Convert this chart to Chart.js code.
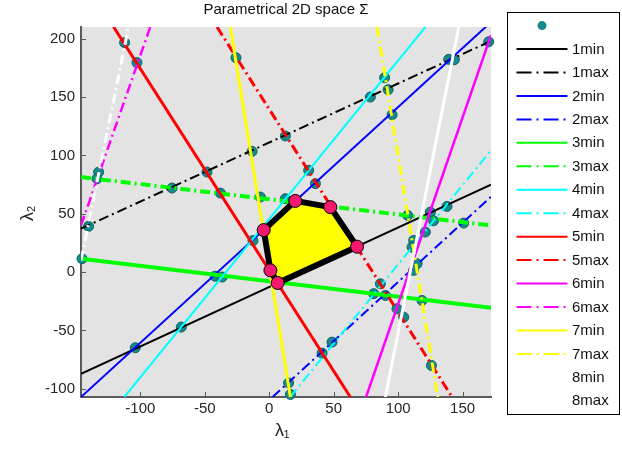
<!DOCTYPE html>
<html>
<head>
<meta charset="utf-8">
<script src="https://cdn.jsdelivr.net/npm/chart.js@4/dist/chart.umd.min.js"></script>
<style>
  html, body { margin: 0; padding: 0; background: #ffffff; }
  #wrap { width: 622px; height: 450px; }
</style>
</head>
<body>
<div id="wrap"><canvas id="c" width="622" height="450"></canvas></div>
<script>
// ---- axis ranges and ticks ----
const xRange = [-146, 172];
const yRange = [-107, 210];
const xTicks = [-100, -50, 0, 50, 100, 150];
const yTicks = [-100, -50, 0, 50, 100, 150, 200];

// ---- constraint lines, each given by two points (lambda1, lambda2) ----
const line1min = [[-146, -87.1], [172, 74.9]];
const line1max = [[-146, 37.2], [172, 198.0]];
const line2min = [[-146, -107], [172, 214.2]];
const line2max = [[2.6, -107], [172, 64.5]];
const line3min = [[-146, 11.5], [172, -30.5]];
const line3max = [[-146, 81.4], [172, 40.0]];
const line4min = [[-112.4, -107], [121.1, 210]];
const line4max = [[16.3, -107], [172, 104.4]];
const line5min = [[-120.7, 210], [62.9, -107]];
const line5max = [[-40.5, 210], [141.8, -107]];
const line6min = [[75.1, -107], [172, 203.0]];
const line6max = [[-146, 40.0], [-92.3, 210]];
const line7min = [[-30.2, 210], [16.4, -107]];
const line7max = [[83.6, 210], [130.7, -107]];
const line8min = [[90.1, -107], [147.0, 210]];
const line8max = [[-146, 10.0], [-109.1, 210]];

const lineNames = ['1min', '1max', '2min', '2max', '3min', '3max', '4min', '4max',
                   '5min', '5max', '6min', '6max', '7min', '7max', '8min', '8max'];
const lineEnds = [line1min, line1max, line2min, line2max, line3min, line3max, line4min, line4max,
                  line5min, line5max, line6min, line6max, line7min, line7max, line8min, line8max];

// ---- pairwise intersections of the constraint lines ----
const intersections = [
  [-112.2, 196.6], [-102.6, 179.5], [-25.8, 183.7], [-13.3, 103.4], [12.5, 116.6],
  [78.4, 150.0], [89.5, 166.6], [92.2, 156.3], [95.3, 134.9], [139.2, 182.3],
  [143.6, 182.0], [170.2, 197.3],
  [-132.3, 85.7], [-133.6, 80.0], [-75.4, 72.0], [-48.3, 85.7], [-37.9, 67.7],
  [-140.1, 39.2], [-145.2, 11.5], [-42.0, -3.5], [-36.5, -4.2], [-12.6, 27.0],
  [30.6, 87.2], [35.8, 75.8], [-6.9, 64.3], [12.5, 62.9],
  [107.4, 48.6], [125.0, 51.4], [137.9, 56.3], [150.8, 42.0], [127.5, 44.0],
  [121.1, 34.3], [112.0, 27.1], [110.8, 21.4], [114.7, 7.2], [112.0, 1.5],
  [86.2, -10.0], [81.0, -18.5], [90.1, -20.0], [99.1, -31.4], [104.3, -38.6], [118.5, -24.3],
  [48.7, -60.0], [41.0, -69.4], [125.8, -80.0], [15.0, -95.0], [16.4, -104.8],
  [-103.9, -64.8], [-68.2, -47.1]
];

// ---- vertices of the feasible region Sigma ----
const region = [
  [-4.3, 36.0], [20.2, 61.0], [47.4, 55.7], [68.1, 21.8], [6.5, -9.3], [0.9, 1.5]
];

// ---- styling ----
const seriesColors = { '1': '#000000', '2': '#0000ff', '3': '#00ff00', '4': '#00ffff',
                       '5': '#ff0000', '6': '#ff00ff', '7': '#ffff00', '8': '#ffffff' };
const seriesWidths = { '1': 2, '2': 2, '3': 4, '4': 2, '5': 3, '6': 2.5, '7': 3, '8': 3 };
const DASH_DOT = [10, 4, 2, 4];
const LEGEND_DASH = [15, 5, 2, 5];
const TEAL = '#16898b';
const TEAL_EDGE = '#0c6466';
const PINK = '#f5186f';
const FONT = "'Liberation Sans', Arial, sans-serif";

const toPts = arr => arr.map(([x, y]) => ({ x, y }));

const datasets = [];
datasets.push({
  label: '',
  data: toPts(intersections),
  showLine: false,
  pointRadius: 5,
  pointHoverRadius: 5,
  pointBackgroundColor: TEAL,
  pointBorderColor: TEAL_EDGE,
  pointBorderWidth: 1,
  order: 200,
  clip: false,
  inLegend: true
});
lineNames.forEach((name, i) => {
  const k = name[0];
  datasets.push({
    label: name,
    data: toPts(lineEnds[i]),
    showLine: true,
    borderColor: seriesColors[k],
    borderWidth: seriesWidths[k],
    borderDash: name.endsWith('max') ? DASH_DOT : [],
    pointRadius: 0,
    pointHoverRadius: 0,
    tension: 0,
    fill: false,
    order: 100 - i,
    clip: 0,
    inLegend: true
  });
});
datasets.push({
  label: 'Sigma',
  data: toPts(region.concat([region[0]])),
  showLine: true,
  fill: 'shape',
  backgroundColor: '#ffff00',
  borderColor: '#000000',
  borderWidth: 6,
  borderJoinStyle: 'round',
  pointRadius: 0,
  pointHoverRadius: 0,
  tension: 0,
  order: 10,
  clip: false
});
datasets.push({
  label: 'Sigma vertices',
  data: toPts(region),
  showLine: false,
  pointRadius: 6.5,
  pointHoverRadius: 6.5,
  pointBackgroundColor: PINK,
  pointBorderColor: '#000000',
  pointBorderWidth: 1,
  order: 5,
  clip: false
});

// plot background, inward tick marks, axis titles and the boxed legend
const decorations = {
  id: 'decorations',
  beforeDraw(chart) {
    const { ctx, chartArea: a } = chart;
    ctx.save();
    ctx.fillStyle = '#e3e3e3';
    ctx.fillRect(a.left, a.top, a.right - a.left, a.bottom - a.top);
    ctx.restore();
  },
  beforeDatasetsDraw(chart) {
    const { ctx, chartArea: a, scales: { x, y } } = chart;
    ctx.save();
    ctx.strokeStyle = '#5a5a5a';
    ctx.lineWidth = 1;
    ctx.beginPath();
    x.ticks.forEach(t => {
      const px = Math.round(x.getPixelForValue(t.value)) + 0.5;
      ctx.moveTo(px, a.bottom);
      ctx.lineTo(px, a.bottom - 5);
    });
    y.ticks.forEach(t => {
      const py = Math.round(y.getPixelForValue(t.value)) + 0.5;
      ctx.moveTo(a.left, py);
      ctx.lineTo(a.left + 5, py);
    });
    ctx.stroke();
    ctx.restore();
  },
  afterDraw(chart) {
    const { ctx } = chart;
    ctx.save();
    ctx.fillStyle = '#222222';
    ctx.textAlign = 'left';
    ctx.textBaseline = 'alphabetic';

    // x axis title: lambda with subscript 1
    ctx.font = '18px ' + FONT;
    ctx.fillText('λ', 275, 436);
    ctx.font = '11px ' + FONT;
    ctx.fillText('1', 283.5, 438);

    // y axis title: lambda with subscript 2, rotated
    ctx.save();
    ctx.translate(33, 221);
    ctx.rotate(-Math.PI / 2);
    ctx.font = '18px ' + FONT;
    ctx.fillText('λ', 0, 0);
    ctx.font = '11px ' + FONT;
    ctx.fillText('2', 9, 2);
    ctx.restore();

    // legend box
    const L = { left: 507, top: 12, right: 619, bottom: 414, y0: 25.6, dy: 23.45, x0: 516.5, x1: 567.5, tx: 572 };
    ctx.fillStyle = '#ffffff';
    ctx.fillRect(L.left, L.top, L.right - L.left, L.bottom - L.top);
    ctx.strokeStyle = '#000000';
    ctx.lineWidth = 1;
    ctx.setLineDash([]);
    ctx.strokeRect(L.left + 0.5, L.top + 0.5, L.right - L.left, L.bottom - L.top);

    const items = chart.data.datasets.filter(d => d.inLegend);
    ctx.font = '15px ' + FONT;
    ctx.textBaseline = 'middle';
    items.forEach((d, i) => {
      const y = L.y0 + i * L.dy;
      if (d.showLine) {
        ctx.beginPath();
        ctx.setLineDash(d.borderDash && d.borderDash.length ? LEGEND_DASH : []);
        ctx.strokeStyle = d.borderColor;
        ctx.lineWidth = 2;
        ctx.moveTo(L.x0, y);
        ctx.lineTo(L.x1, y);
        ctx.stroke();
        ctx.setLineDash([]);
      } else {
        ctx.beginPath();
        ctx.arc((L.x0 + L.x1) / 2, y, 4.5, 0, Math.PI * 2);
        ctx.fillStyle = d.pointBackgroundColor;
        ctx.fill();
      }
      if (d.label) {
        ctx.fillStyle = '#111111';
        ctx.fillText(d.label, L.tx, y + 0.5);
      }
    });
    ctx.restore();
  }
};

Chart.defaults.font.family = FONT;

new Chart(document.getElementById('c'), {
  type: 'scatter',
  data: { datasets },
  options: {
    responsive: false,
    animation: false,
    events: [],
    layout: { padding: { left: 0, top: 0, right: 131, bottom: 0 } },
    plugins: {
      legend: { display: false },
      tooltip: { enabled: false },
      title: {
        display: true,
        text: 'Parametrical 2D space Σ',
        fullSize: false,
        color: '#111111',
        font: { family: FONT, size: 15, weight: 'normal' },
        padding: { top: 1, bottom: 8 }
      }
    },
    scales: {
      x: {
        type: 'linear',
        min: xRange[0],
        max: xRange[1],
        afterBuildTicks: s => { s.ticks = xTicks.map(v => ({ value: v })); },
        afterFit: s => { s.height = 53; },
        grid: { display: false, drawTicks: false },
        border: { display: true, color: '#5a5a5a', width: 2 },
        ticks: { color: '#262626', font: { size: 15 }, padding: 3, maxRotation: 0 }
      },
      y: {
        type: 'linear',
        min: yRange[0],
        max: yRange[1],
        afterBuildTicks: s => { s.ticks = yTicks.map(v => ({ value: v })); },
        afterFit: s => { s.width = 81; },
        grid: { display: false, drawTicks: false },
        border: { display: true, color: '#5a5a5a', width: 2 },
        ticks: { color: '#262626', font: { size: 15 }, padding: 6 }
      }
    }
  },
  plugins: [decorations]
});
</script>
</body>
</html>
